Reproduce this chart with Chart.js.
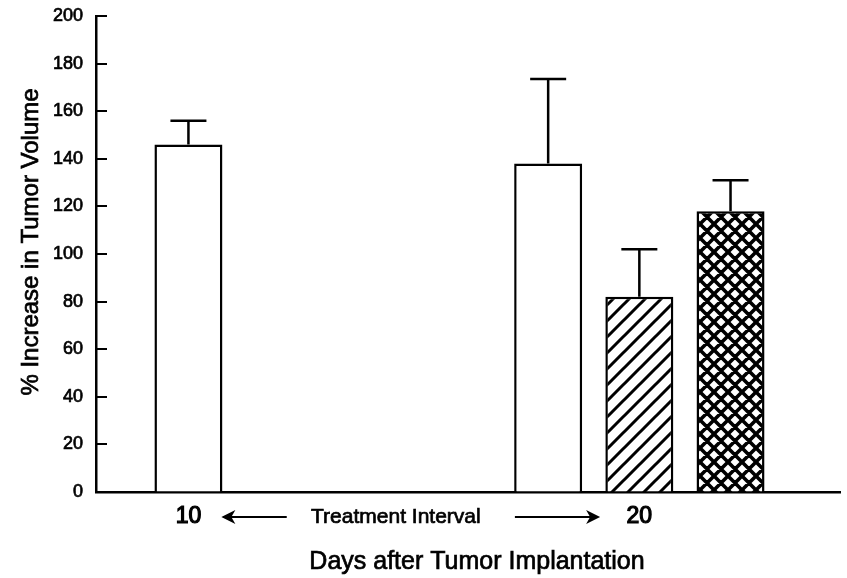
<!DOCTYPE html>
<html>
<head>
<meta charset="utf-8">
<script src="https://cdn.jsdelivr.net/npm/chart.js@4.4.1/dist/chart.umd.min.js"></script>
<style>
  html, body { margin: 0; padding: 0; background: #fff; }
  #wrap { width: 847px; height: 578px; }
</style>
</head>
<body>
<div id="wrap"><canvas id="chart" width="847" height="578"></canvas></div>
<script>
(function () {
  // days after implantation (x categories)
  const days = [10, 20];
  // % increase in tumor volume, mean and upper error
  const controlMean = [146, 138];
  const controlErr = [10, 35.5];
  const treatAMean = [null, 82];
  const treatAErr = [null, 20];
  const treatBMean = [null, 118];
  const treatBErr = [null, 13];
  const yTicks = [0, 20, 40, 60, 80, 100, 120, 140, 160, 180, 200];

  const FONT = '"Liberation Sans", Arial, Helvetica, sans-serif';

  function makeDiagonal() {
    const p = 16;
    const c = document.createElement('canvas');
    c.width = p; c.height = p;
    const g = c.getContext('2d');
    g.fillStyle = '#fff';
    g.fillRect(0, 0, p, p);
    g.strokeStyle = '#000';
    g.lineWidth = 3;
    g.beginPath();
    g.moveTo(-2, p + 2); g.lineTo(p + 2, -2);
    g.moveTo(-2, 2); g.lineTo(2, -2);
    g.moveTo(p - 2, p + 2); g.lineTo(p + 2, p - 2);
    g.stroke();
    return g.createPattern(c, 'repeat');
  }

  function makeCross() {
    const p = 14;
    const c = document.createElement('canvas');
    c.width = p; c.height = p;
    const g = c.getContext('2d');
    g.fillStyle = '#fff';
    g.fillRect(0, 0, p, p);
    g.strokeStyle = '#000';
    g.lineWidth = 3.6;
    g.beginPath();
    g.moveTo(-2, p + 2); g.lineTo(p + 2, -2);
    g.moveTo(-2, -2); g.lineTo(p + 2, p + 2);
    g.moveTo(-2, 2); g.lineTo(2, -2);
    g.moveTo(p - 2, p + 2); g.lineTo(p + 2, p - 2);
    g.moveTo(p - 2, -2); g.lineTo(p + 2, 2);
    g.moveTo(-2, p - 2); g.lineTo(2, p + 2);
    g.stroke();
    return g.createPattern(c, 'repeat');
  }

  const errors = [controlErr, treatAErr, treatBErr];

  function boldText(ctx, text, px, py) {
    ctx.fillText(text, px, py);
    ctx.strokeText(text, px, py);
  }

  const extras = {
    id: 'extras',
    afterDatasetsDraw(chart) {
      const ctx = chart.ctx;
      const y = chart.scales.y;
      ctx.save();
      ctx.strokeStyle = '#000';
      ctx.lineWidth = 2.5;
      chart.data.datasets.forEach((ds, di) => {
        const meta = chart.getDatasetMeta(di);
        ds.data.forEach((pt, i) => {
          if (pt.y == null) return;
          const bar = meta.data[i];
          const top = y.getPixelForValue(pt.y + errors[di][i]);
          ctx.beginPath();
          ctx.moveTo(bar.x, bar.y);
          ctx.lineTo(bar.x, top);
          ctx.moveTo(bar.x - 18, top);
          ctx.lineTo(bar.x + 18, top);
          ctx.stroke();
        });
      });
      ctx.restore();
    },
    afterDraw(chart) {
      const ctx = chart.ctx;
      const x = chart.scales.x;
      const y = chart.scales.y;
      const area = chart.chartArea;
      ctx.save();
      // inward tick marks on the y axis
      ctx.strokeStyle = '#000';
      ctx.lineWidth = 2;
      yTicks.forEach((v) => {
        const py = Math.round(y.getPixelForValue(v));
        ctx.beginPath();
        ctx.moveTo(area.left, py);
        ctx.lineTo(area.left + 11, py);
        ctx.stroke();
      });

      // treatment interval arrows
      const ay = 517;
      const l1 = x.getPixelForValue(10.73), l2 = x.getPixelForValue(12.18);
      const r1 = x.getPixelForValue(17.24), r2 = x.getPixelForValue(19.13);
      ctx.lineWidth = 2;
      ctx.beginPath();
      ctx.moveTo(l1 + 2, ay); ctx.lineTo(l2, ay);
      ctx.moveTo(r1, ay); ctx.lineTo(r2 - 2, ay);
      ctx.stroke();
      ctx.fillStyle = '#000';
      ctx.beginPath();
      ctx.moveTo(l1, ay); ctx.lineTo(l1 + 14, ay - 7); ctx.lineTo(l1 + 10, ay); ctx.lineTo(l1 + 14, ay + 7);
      ctx.closePath(); ctx.fill();
      ctx.beginPath();
      ctx.moveTo(r2, ay); ctx.lineTo(r2 - 14, ay - 7); ctx.lineTo(r2 - 10, ay); ctx.lineTo(r2 - 14, ay + 7);
      ctx.closePath(); ctx.fill();

      ctx.lineWidth = 0.7;
      ctx.font = '21px ' + FONT;
      ctx.textAlign = 'center';
      ctx.textBaseline = 'alphabetic';
      boldText(ctx, 'Treatment Interval', x.getPixelForValue(14.6), 523);

      // axis titles
      ctx.font = '25px ' + FONT;
      boldText(ctx, 'Days after Tumor Implantation', 477, 569);

      ctx.translate(38, 242);
      ctx.rotate(-Math.PI / 2);
      ctx.font = '24px ' + FONT;
      boldText(ctx, '% Increase in Tumor Volume', 0, 0);
      ctx.restore();
    }
  };

  const toPoints = (arr) => days.map((d, i) => ({ x: d, y: arr[i] }));
  const barStyle = {
    borderColor: '#000',
    borderWidth: 2.5,
    borderSkipped: 'bottom',
    categoryPercentage: 0.6067,
    barPercentage: 0.747,
    maxBarThickness: 68
  };

  new Chart(document.getElementById('chart'), {
    type: 'bar',
    data: {
      datasets: [
        { label: 'Control', data: toPoints(controlMean), backgroundColor: '#fff', ...barStyle },
        { label: 'Treatment A', data: toPoints(treatAMean), backgroundColor: makeDiagonal(), ...barStyle },
        { label: 'Treatment B', data: toPoints(treatBMean), backgroundColor: makeCross(), ...barStyle }
      ]
    },
    options: {
      responsive: false,
      animation: false,
      devicePixelRatio: 1,
      skipNull: true,
      layout: { padding: { top: 16, right: 7, left: 0, bottom: 0 } },
      plugins: { legend: { display: false }, tooltip: { enabled: false } },
      scales: {
        x: {
          type: 'linear',
          offset: false,
          min: 7.95,
          max: 24.45,
          afterFit(scale) {
            scale.height = 86;
            scale.paddingLeft = 0;
            scale.paddingRight = 0;
          },
          afterBuildTicks(scale) { scale.ticks = days.map((d) => ({ value: d })); },
          grid: { display: true, drawOnChartArea: false, drawTicks: false, offset: false },
          border: { display: true, color: '#000', width: 2.5 },
          ticks: {
            autoSkip: false,
            maxRotation: 0,
            padding: 11,
            color: '#000',
            textStrokeColor: '#000',
            textStrokeWidth: 1.2,
            font: { family: FONT, size: 23 },
            callback: (v) => String(v)
          }
        },
        y: {
          min: 0,
          max: 200,
          afterFit(scale) {
            scale.width = 96;
            scale.paddingTop = 0;
            scale.paddingBottom = 0;
          },
          afterBuildTicks(scale) { scale.ticks = yTicks.map((v) => ({ value: v })); },
          grid: { display: true, drawOnChartArea: false, drawTicks: false },
          border: { display: true, color: '#000', width: 2.5 },
          ticks: {
            padding: 13,
            color: '#000',
            textStrokeColor: '#000',
            textStrokeWidth: 0.7,
            font: { family: FONT, size: 18 }
          }
        }
      }
    },
    plugins: [extras]
  });
})();
</script>
</body>
</html>
